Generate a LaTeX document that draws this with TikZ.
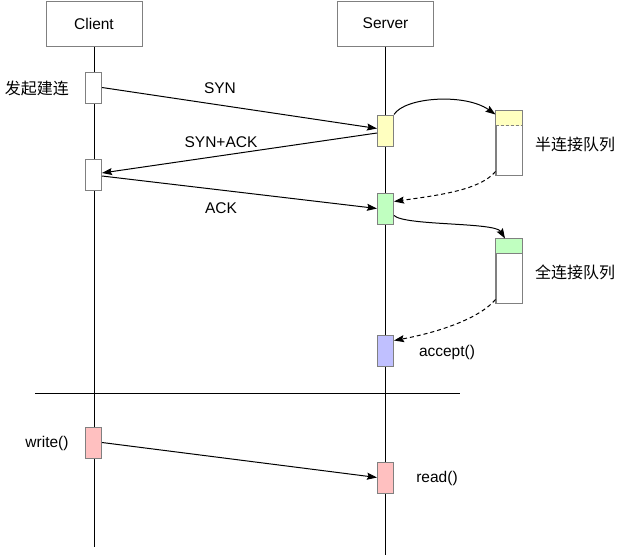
\documentclass[tikz,border=0pt]{standalone}
\usepackage{fontspec}
\setmainfont{Liberation Sans}
\newfontfamily\cjk{Noto Sans CJK SC}
\usetikzlibrary{arrows.meta}
\definecolor{boxgray}{RGB}{128,128,128}
\definecolor{qyellow}{RGB}{255,255,192}
\definecolor{qgreen}{RGB}{192,255,192}
\definecolor{qpurple}{RGB}{192,192,255}
\definecolor{qred}{RGB}{255,192,192}
\begin{document}
\begin{tikzpicture}[x=1pt,y=-1pt,line width=1pt,
  hdr/.style={draw=boxgray,fill=white,minimum width=96pt,minimum height=45pt,inner sep=0pt,font=\fontsize{15.5}{18}\selectfont},
  act/.style={draw=boxgray,minimum width=16pt,minimum height=31pt,inner sep=0pt},
  queue/.style={draw=boxgray,minimum width=26pt,minimum height=64pt,inner sep=0pt},
  lbl/.style={font=\fontsize{15.5}{18}\selectfont,inner sep=0pt},
  cjklbl/.style={font=\fontsize{16}{18}\selectfont\cjk,inner sep=0pt},
  msg/.style={-{Stealth[length=10pt,width=7pt,inset=1.5pt]}},
  dmsg/.style={msg,dashed,dash pattern=on 4pt off 3pt}]
\useasboundingbox (0,0) rectangle (622,557);
\fill[white] (0,0) rectangle (622,557);
% headers
\node[hdr] (client) at (94,23.5) {Client};
\node[hdr] (server) at (385.5,23.5) {Server};
\coordinate (cend) at (94,547);
\coordinate (send) at (385.5,555);
\draw (client.south) -- (cend);
\draw (server.south) -- (send);
% separator
\coordinate (hl1) at (35,393);
\coordinate (hl2) at (460,393);
\draw (hl1) -- (hl2);
% activations
\node[act,fill=white] (c1) at (93.5,87.5) {};
\node[act,fill=white] (c2) at (93.5,174.5) {};
\node[act,fill=qyellow] (s1) at (385.5,130.5) {};
\node[act,fill=qgreen] (g1) at (385.5,208.5) {};
\node[act,fill=qpurple] (p1) at (385.5,350.5) {};
\node[act,fill=qred] (r1) at (93.5,442.5) {};
\node[act,fill=qred] (r2) at (385.5,477.5) {};
% queues
\node[queue] (q1) at (509,143) {};
\fill[qyellow] (q1.north west) rectangle ([yshift=-15pt]q1.north east);
\draw[draw=boxgray,line width=0.8pt,dashed,dash pattern=on 3pt off 2pt] ([yshift=-15pt]q1.north west) -- ([yshift=-15pt]q1.north east);
\draw[boxgray] (q1.north west) rectangle (q1.south east);
\node[queue] (q2) at (509,271) {};
\fill[qgreen] (q2.north west) rectangle ([yshift=-15pt]q2.north east);
\draw[boxgray] ([yshift=-15pt]q2.north west) -- ([yshift=-15pt]q2.north east);
\draw[boxgray] (q2.north west) rectangle (q2.south east);
% messages
\draw[msg] (c1.east) -- ([yshift=2pt]s1.west);
\draw[msg] ([yshift=-2.5pt]s1.west) -- ([yshift=1.5pt]c2.east);
\draw[msg] ([yshift=-1.5pt]c2.east) -- (g1.west);
\draw[msg] (r1.east) -- (r2.west);
% queue arrows
\draw[msg] (s1.north east) .. controls (405,97) and (465,93) .. ([yshift=-4pt]q1.north west);
\draw[dmsg] ([yshift=4pt]q1.south west) .. controls (480,190) and (440,195) .. ([yshift=7pt]g1.east);
\draw[msg] ([yshift=-7pt]g1.east) .. controls (405,226) and (495,222) .. ([xshift=-4pt]q2.north);
\draw[dmsg] ([yshift=4pt]q2.south west) .. controls (480,318) and (440,332) .. ([yshift=10pt]p1.east);
% labels
\node[cjklbl] (tconn) at (37,88) {发起建连};
\node[lbl] (tsyn) at (220,88) {SYN};
\node[lbl] (tsynack) at (221,142) {SYN+ACK};
\node[lbl] (tack) at (221,208) {ACK};
\node[cjklbl] (thalf) at (575,144) {半连接队列};
\node[cjklbl] (tfull) at (575,272) {全连接队列};
\node[lbl] (taccept) at (447,352) {accept()};
\node[lbl] (twrite) at (47,443) {write()};
\node[lbl] (tread) at (437,478) {read()};
\end{tikzpicture}
\end{document}
